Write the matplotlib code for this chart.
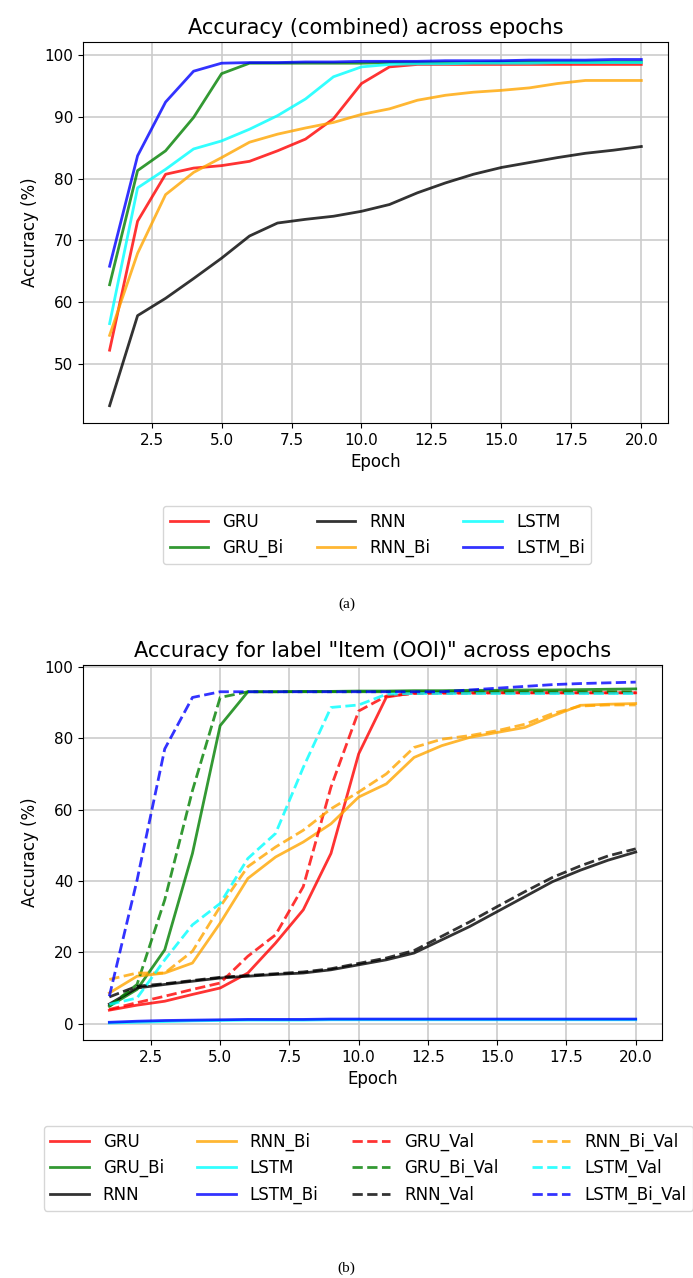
import matplotlib
matplotlib.use('Agg')
from matplotlib import pyplot as plt

epochs = list(range(1, 21))

# (a) combined accuracy
gru = [52.2, 73.1, 80.7, 81.7, 82.1, 82.8, 84.5, 86.4, 89.7, 95.4, 98.1, 98.5, 98.5, 98.5, 98.5, 98.5, 98.5, 98.5, 98.5, 98.5]
gru_bi = [62.8, 81.3, 84.5, 89.9, 97.0, 98.7, 98.7, 98.7, 98.7, 98.7, 98.8, 98.8, 98.8, 98.8, 98.9, 98.9, 98.9, 98.9, 98.9, 98.9]
rnn = [43.2, 57.8, 60.6, 63.8, 67.1, 70.7, 72.8, 73.4, 73.9, 74.7, 75.8, 77.7, 79.3, 80.7, 81.8, 82.6, 83.4, 84.1, 84.6, 85.2]
rnn_bi = [54.6, 67.9, 77.4, 81.0, 83.4, 85.9, 87.2, 88.2, 89.1, 90.4, 91.3, 92.7, 93.5, 94.0, 94.3, 94.7, 95.4, 95.9, 95.9, 95.9]
lstm = [56.5, 78.5, 81.5, 84.8, 86.1, 88.0, 90.2, 92.9, 96.5, 98.1, 98.5, 98.6, 98.6, 98.7, 98.7, 98.7, 98.8, 98.8, 98.8, 98.8]
lstm_bi = [65.8, 83.7, 92.4, 97.4, 98.7, 98.8, 98.8, 98.9, 98.9, 99.0, 99.0, 99.0, 99.1, 99.1, 99.1, 99.2, 99.2, 99.2, 99.3, 99.3]

# (b) label "Item (OOI)"
b_gru = [3.8, 5.2, 6.3, 8.2, 10.0, 14.2, 22.6, 31.9, 47.7, 75.6, 91.5, 92.7, 92.7, 92.7, 92.7, 92.7, 92.7, 92.7, 92.7, 92.7]
b_gru_bi = [4.9, 9.6, 20.7, 47.7, 83.5, 93.0, 93.0, 93.1, 93.1, 93.2, 93.2, 93.3, 93.3, 93.4, 93.4, 93.5, 93.5, 93.6, 93.7, 93.8]
b_rnn = [5.5, 10.0, 11.0, 11.9, 12.8, 13.3, 13.8, 14.2, 15.1, 16.5, 17.9, 19.8, 23.5, 27.2, 31.4, 35.6, 39.8, 43.0, 45.8, 48.1]
b_rnn_bi = [8.6, 13.3, 14.2, 17.0, 28.2, 40.7, 46.7, 50.9, 56.0, 63.5, 67.2, 74.6, 77.9, 80.2, 81.6, 83.0, 86.2, 89.2, 89.5, 89.7]
b_lstm = [0.2, 0.4, 0.6, 0.8, 0.9, 1.0, 1.0, 1.0, 1.1, 1.1, 1.1, 1.1, 1.1, 1.1, 1.1, 1.1, 1.1, 1.1, 1.1, 1.1]
b_lstm_bi = [0.4, 0.7, 0.9, 1.0, 1.1, 1.2, 1.2, 1.2, 1.3, 1.3, 1.3, 1.3, 1.3, 1.3, 1.3, 1.3, 1.3, 1.3, 1.3, 1.3]
b_gru_val = [4.0, 5.9, 7.7, 9.6, 11.4, 18.9, 24.9, 38.4, 66.3, 87.6, 91.8, 92.5, 92.6, 92.6, 92.7, 92.7, 92.7, 92.7, 92.7, 92.7]
b_gru_bi_val = [4.9, 11.0, 34.7, 65.3, 91.4, 93.0, 93.0, 93.0, 93.0, 93.0, 93.0, 93.0, 93.0, 93.0, 93.0, 93.0, 93.0, 93.0, 93.0, 93.0]
b_rnn_val = [7.5, 10.5, 11.2, 12.1, 13.0, 13.5, 14.0, 14.5, 15.4, 16.9, 18.4, 20.5, 24.5, 28.5, 32.8, 37.0, 41.0, 44.2, 47.0, 49.0]
b_rnn_bi_val = [12.4, 14.2, 14.2, 20.3, 32.8, 44.0, 49.5, 54.2, 60.2, 64.9, 70.0, 77.4, 79.7, 80.7, 82.1, 83.9, 86.9, 89.0, 89.3, 89.3]
b_lstm_val = [5.4, 7.2, 17.9, 27.7, 33.7, 46.3, 53.3, 71.8, 88.6, 89.3, 92.3, 92.5, 92.5, 92.5, 92.5, 92.5, 92.5, 92.5, 92.5, 92.5]
b_lstm_bi_val = [7.7, 40.2, 77.0, 91.4, 93.0, 93.0, 93.0, 93.0, 93.0, 93.0, 93.0, 93.0, 93.0, 93.5, 94.0, 94.5, 95.0, 95.3, 95.5, 95.7]

plt.rcParams['font.family'] = ['DejaVu Sans']
plt.rcParams['xtick.labelsize'] = 11
plt.rcParams['ytick.labelsize'] = 11
plt.rcParams['axes.labelsize'] = 12

fig = plt.figure(figsize=(6.93, 12.78), dpi=100)

leg_kw = dict(loc='upper center', fontsize=12, handlelength=2.3,
              handletextpad=0.85, columnspacing=2.0, borderaxespad=0)

# --- (a)
ax1 = fig.add_axes([0.1198, 0.669, 0.844, 0.298])
ax1.plot(epochs, gru, color='red', alpha=0.8, lw=2, label='GRU')
ax1.plot(epochs, gru_bi, color='green', alpha=0.8, lw=2, label='GRU_Bi')
ax1.plot(epochs, rnn, color='black', alpha=0.8, lw=2, label='RNN')
ax1.plot(epochs, rnn_bi, color='orange', alpha=0.8, lw=2, label='RNN_Bi')
ax1.plot(epochs, lstm, color='cyan', alpha=0.8, lw=2, label='LSTM')
ax1.plot(epochs, lstm_bi, color='blue', alpha=0.8, lw=2, label='LSTM_Bi')
ax1.set_title('Accuracy (combined) across epochs', fontsize=15)
ax1.set_xlabel('Epoch')
ax1.set_ylabel('Accuracy (%)')
ax1.grid(True, color='#cccccc', lw=1.2)
ax1.legend(bbox_to_anchor=(0.503, -0.218), ncol=3, **leg_kw)

# --- (b)
ax2 = fig.add_axes([0.1198, 0.1862, 0.8355, 0.2934])
ax2.plot(epochs, b_gru, color='red', alpha=0.8, lw=2, label='GRU')
ax2.plot(epochs, b_gru_bi, color='green', alpha=0.8, lw=2, label='GRU_Bi')
ax2.plot(epochs, b_rnn, color='black', alpha=0.8, lw=2, label='RNN')
ax2.plot(epochs, b_rnn_bi, color='orange', alpha=0.8, lw=2, label='RNN_Bi')
ax2.plot(epochs, b_lstm, color='cyan', alpha=0.8, lw=2, label='LSTM')
ax2.plot(epochs, b_lstm_bi, color='blue', alpha=0.8, lw=2, label='LSTM_Bi')
ax2.plot(epochs, b_gru_val, color='red', alpha=0.8, lw=2, ls='--', label='GRU_Val')
ax2.plot(epochs, b_gru_bi_val, color='green', alpha=0.8, lw=2, ls='--', label='GRU_Bi_Val')
ax2.plot(epochs, b_rnn_val, color='black', alpha=0.8, lw=2, ls='--', label='RNN_Val')
ax2.plot(epochs, b_rnn_bi_val, color='orange', alpha=0.8, lw=2, ls='--', label='RNN_Bi_Val')
ax2.plot(epochs, b_lstm_val, color='cyan', alpha=0.8, lw=2, ls='--', label='LSTM_Val')
ax2.plot(epochs, b_lstm_bi_val, color='blue', alpha=0.8, lw=2, ls='--', label='LSTM_Bi_Val')
ax2.set_title('Accuracy for label "Item (OOI)" across epochs', fontsize=15)
ax2.set_xlabel('Epoch')
ax2.set_ylabel('Accuracy (%)')
ax2.grid(True, color='#cccccc', lw=1.2)
ax2.legend(bbox_to_anchor=(0.493, -0.229), ncol=4, **leg_kw)

fig.text(0.5, 1 - 604 / 1278, '(a)', ha='center', va='center',
         family='Liberation Serif', fontsize=11)
fig.text(0.5, 1 - 1268 / 1278, '(b)', ha='center', va='center',
         family='Liberation Serif', fontsize=11)

plt.savefig('out.png', dpi=100)
